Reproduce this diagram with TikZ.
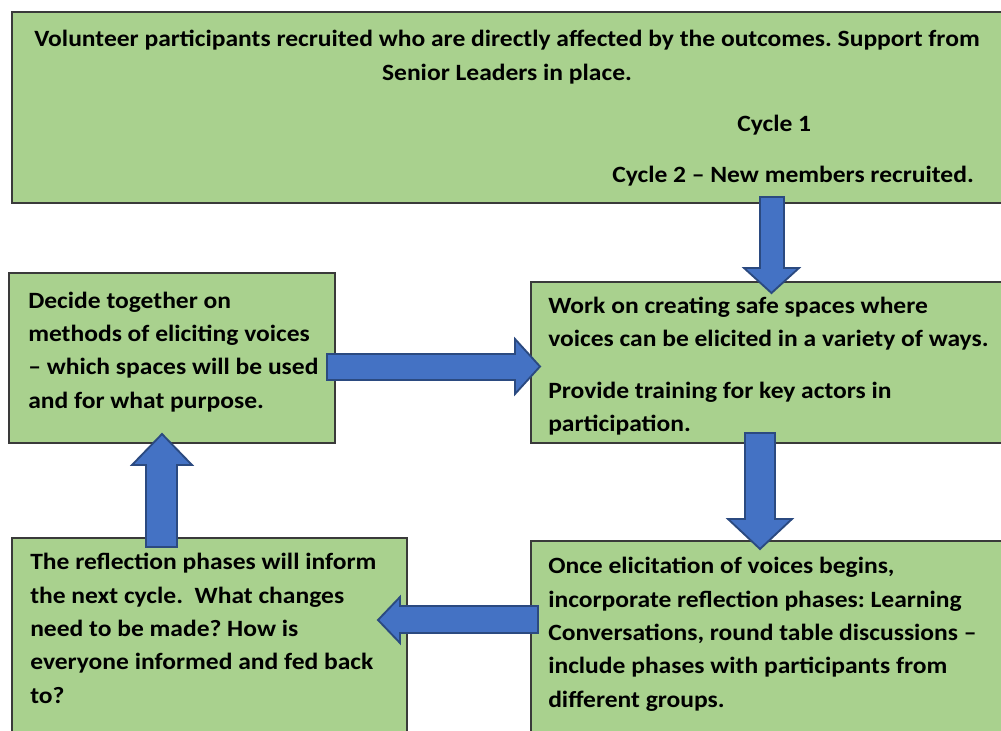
\documentclass[tikz,border=0pt]{standalone}
\usepackage{fontspec}
\setmainfont[FakeStretch=1.095]{Carlito}
\usetikzlibrary{fit}
\definecolor{boxfill}{HTML}{A9D18E}
\definecolor{boxline}{HTML}{3A3A3A}
\definecolor{arrowfill}{HTML}{4472C4}
\definecolor{arrowline}{HTML}{2B4A80}
\frenchspacing
\begin{document}
\begin{tikzpicture}[x=0.75pt,y=-0.75pt,
  box/.style={draw=boxline, fill=boxfill, line width=1.1pt, inner sep=0pt, outer sep=0pt},
  txt/.style={font=\bfseries\fontsize{17.5}{25}\selectfont, inner sep=0pt, text=black},
  blockarrow/.style={draw=arrowline, fill=arrowfill, line width=1.4pt, line join=miter}]
\useasboundingbox (0,0) rectangle (1001,731);

% process boxes
\node[box, fit={(12,12) (1004,203)}] (recruit) {};
\node[box, fit={(9,273) (335,443)}] (decide) {};
\node[box, fit={(531,282) (1004,443)}] (spaces) {};
\node[box, fit={(12,538) (407,734)}] (inform) {};
\node[box, fit={(531,541) (1004,734)}] (reflect) {};

% box texts (anchored at the baseline of their last line)
\node[txt, align=center, anchor=base] (recruitText) at (507,81)
  {Volunteer participants recruited who are directly affected by the outcomes. Support from\\[0.8pt]
   Senior Leaders in place.};
\node[txt, anchor=base west] (cycleOne) at (737,132) {Cycle 1};
\node[txt, anchor=base west] (cycleTwo) at (612,183) {Cycle 2 -- New members recruited.};

\node[txt, align=left, anchor=base west] (decideText) at (28,408)
  {Decide together on\\ methods of eliciting voices\\ -- which spaces will be used\\ and for what purpose.};
\node[txt, align=left, anchor=base west] (spacesText) at (548,432)
  {Work on creating safe spaces where\\ voices can be elicited in a variety of ways.\\[14pt]
   Provide training for key actors in\\ participation.};
\node[txt, align=left, anchor=base west] (informText) at (30,703)
  {The reflection phases will inform\\ the next cycle.\ \ What changes\\ need to be made? How is\\
   everyone informed and fed back\\ to?};
\node[txt, align=left, anchor=base west] (reflectText) at (548,707)
  {Once elicitation of voices begins,\\ incorporate reflection phases: Learning\\
   Conversations, round table discussions --\\ include phases with participants from\\ different groups.};

% block arrows between the stages
\draw[blockarrow] (760,197) -- (784,197) -- (784,268) -- (799,268) -- (771.5,293)
  -- (744,268) -- (760,268) -- cycle;
\draw[blockarrow] (327,354) -- (515,354) -- (515,339) -- (540,366.5) -- (515,394)
  -- (515,380) -- (327,380) -- cycle;
\draw[blockarrow] (745,433) -- (775,433) -- (775,519) -- (792,519) -- (760,549)
  -- (728,519) -- (745,519) -- cycle;
\draw[blockarrow] (538,606) -- (400,606) -- (400,597) -- (378,620) -- (400,643)
  -- (400,633) -- (538,633) -- cycle;
\draw[blockarrow] (146,547) -- (146,465) -- (132,465) -- (162,434) -- (192,465)
  -- (177,465) -- (177,547) -- cycle;
\end{tikzpicture}
\end{document}
